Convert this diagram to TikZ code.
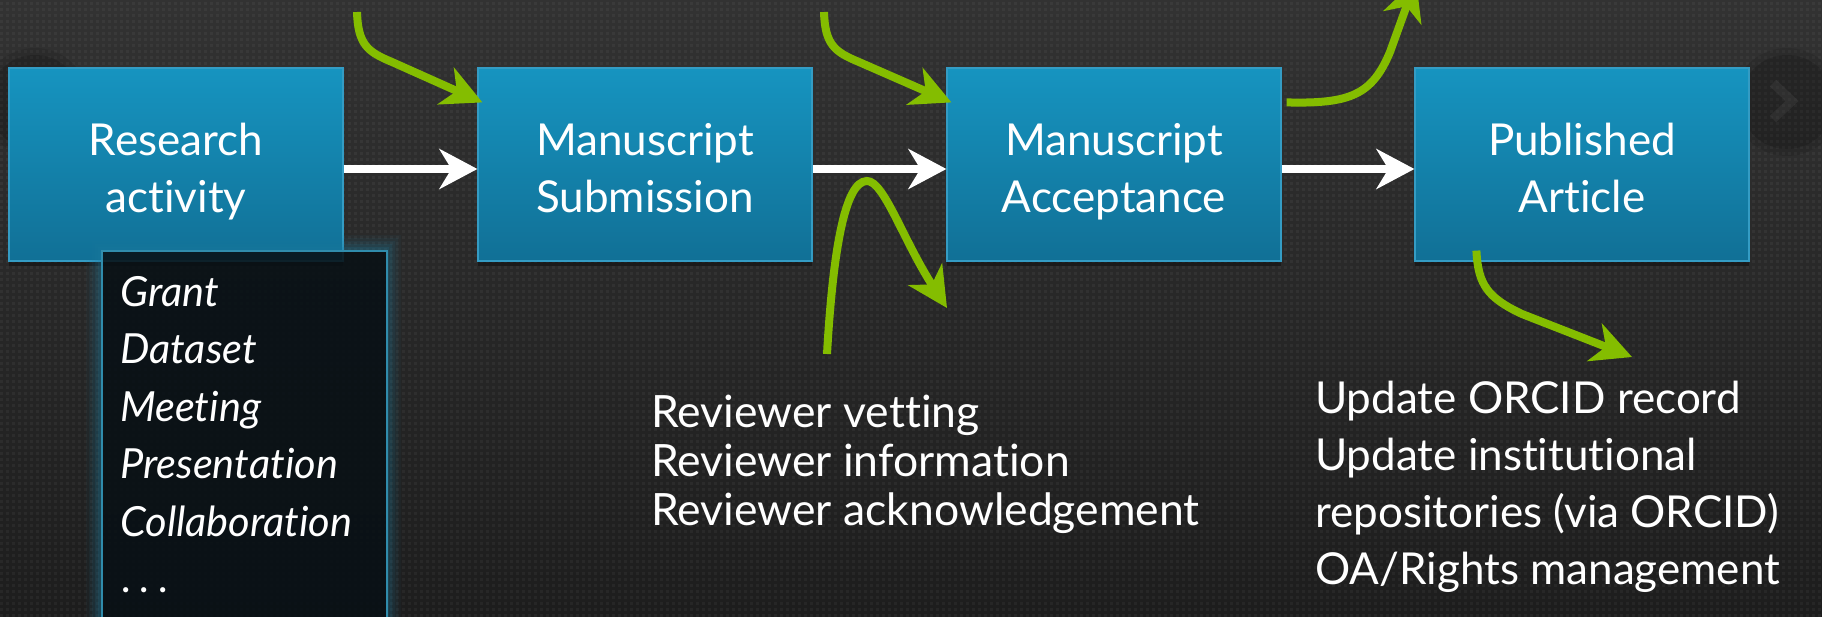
\documentclass[tikz,border=0pt]{standalone}
\usepackage{fontspec}
\setmainfont{Lato}[Ligatures={NoCommon,NoRequired,NoContextual}]
\usetikzlibrary{arrows.meta,shadows}
\definecolor{bgtop}{RGB}{50,50,50}
\definecolor{bgbot}{RGB}{29,29,29}
\definecolor{boxtop}{RGB}{22,148,192}
\definecolor{boxbot}{RGB}{17,112,150}
\definecolor{boxline}{RGB}{52,156,196}
\definecolor{arrowgreen}{RGB}{132,189,0}
\definecolor{listfill}{RGB}{8,16,21}
\definecolor{glowcol}{RGB}{30,125,160}
\definecolor{glowline}{RGB}{48,140,172}
\newcommand\topstrutx{\rule{0pt}{50pt}}
\newcommand\botstrutx{\rule[-12pt]{0pt}{12pt}}
\tikzset{
  stepbox/.style={draw=boxline, line width=1.2pt, top color=boxtop, bottom color=boxbot,
    minimum width=334pt, minimum height=193pt, inner sep=0pt, text=white, align=center,
    font=\fontsize{44}{57}\selectfont,
    drop shadow={shadow xshift=0pt, shadow yshift=-5pt, opacity=0.35, fill=black}},
  flow/.style={white, line width=8pt, -{Stealth[length=38pt,width=40pt,inset=12pt]}},
  hook/.style={arrowgreen, line width=8pt, -{Stealth[length=40pt,width=40pt,inset=12pt]}},
  listbox/.style={draw=glowline, line width=1.5pt, fill=listfill, fill opacity=0.88,
    anchor=north west, minimum width=285pt, minimum height=390pt, inner sep=0pt},
  listline/.style={anchor=base west, text=white, inner sep=0pt,
    font=\fontsize{41.5}{57}\selectfont\itshape},
  notes/.style={anchor=base west, text=white, inner sep=0pt, font=\fontsize{44.5}{49}\selectfont},
  notesb/.style={anchor=base west, text=white, inner sep=0pt, font=\fontsize{44}{57}\selectfont},
  dotrow/.style={white, opacity=0.045, line width=3pt, dash pattern=on 3pt off 3pt},
}
\begin{document}
\begin{tikzpicture}[x=1pt,y=-1pt]
\useasboundingbox (0,0) rectangle (1822,616);
\fill[top color=bgtop, bottom color=bgbot] (0,0) rectangle (1822,616);
\foreach \yy in {3,9,...,615} \draw[dotrow] (0,\yy) -- (1822,\yy);
% faint navigation circles
\fill[black, opacity=0.10] (35,102) circle (54pt);
\fill[black, opacity=0.14] (35,102) circle (47pt);
\fill[black, opacity=0.10] (1787,102) circle (54pt);
\fill[black, opacity=0.14] (1787,102) circle (47pt);
\draw[white, opacity=0.05, line width=9pt] (1773,83) -- (1792,101) -- (1773,119);
% process boxes
\node[stepbox] (ra) at (176,164.5) {\topstrutx Research\\activity\botstrutx};
\node[stepbox] (ms) at (645,164.5) {\topstrutx Manuscript\\Submission\botstrutx};
\node[stepbox] (ma) at (1114,164.5) {\topstrutx Manuscript\\Acceptance\botstrutx};
\node[stepbox] (pa) at (1582,164.5) {\topstrutx Published\\Article\botstrutx};
% main flow
\draw[flow] ([yshift=-4.5pt]ra.east) -- ([yshift=-4.5pt]ms.west);
\draw[flow] ([yshift=-4.5pt]ms.east) -- ([yshift=-4.5pt]ma.west);
\draw[flow] ([yshift=-4.5pt]ma.east) -- ([yshift=-4.5pt]pa.west);
% activity list box with glow
\foreach \g/\o in {15/0.05,12/0.07,9/0.09,6/0.12,3/0.16}
  \fill[glowcol, opacity=\o, even odd rule] (101-\g,250-\g) rectangle (386+\g,650) (101,250) rectangle (386,650);
\node[listbox] (acts) at (101,250) {};
\node[listline] (l1) at (120,306) {Grant};
\node[listline] (l2) at (120,363) {Dataset};
\node[listline] (l3) at (120,421) {Meeting};
\node[listline] (l4) at (120,478) {Presentation};
\node[listline] (l5) at (120,536) {Collaboration};
\node[listline] (l6) at (122,592) {.\kern9pt.\kern9pt.};
% green connectors
\coordinate (g1s) at (357,12);
\coordinate (g2s) at (824,12);
\coordinate (rvs) at (827,354);
\coordinate (rve) at (947,308);
\coordinate (g3e) at (1416,-20);
\coordinate (g4e) at (1632,357);
\draw[hook] (g1s) .. controls (358,45) and (368,52) .. (392,62) -- ([shift={(5pt,-35pt)}]ms.north west);
\draw[hook] (g2s) .. controls (825,45) and (835,52) .. (859,62) -- ([shift={(5pt,-35pt)}]ma.north west);
\draw[hook] (rvs) .. controls (833,250) and (845,181) .. (867,181) .. controls (884,181) and (903,240) .. (rve);
\draw[hook] ([shift={(5pt,-35pt)}]ma.north east) .. controls (1350,104) and (1372,95) .. (1390,52) -- (g3e);
\draw[hook] ([shift={(62pt,11pt)}]pa.south west) .. controls (1478,285) and (1488,298) .. (1522,314) -- (g4e);
% notes
\node[notes] (n1) at (651,427) {Reviewer vetting};
\node[notes] (n2) at (651,476) {Reviewer information};
\node[notes] (n3) at (651,525) {Reviewer acknowledgement};
\node[notesb] (u1) at (1315,413) {Update ORCID record};
\node[notesb] (u2) at (1315,470) {Update institutional};
\node[notesb] (u3) at (1315,527) {repositories (via ORCID)};
\node[notesb] (u4) at (1315,584) {OA/Rights management};
\end{tikzpicture}
\end{document}
